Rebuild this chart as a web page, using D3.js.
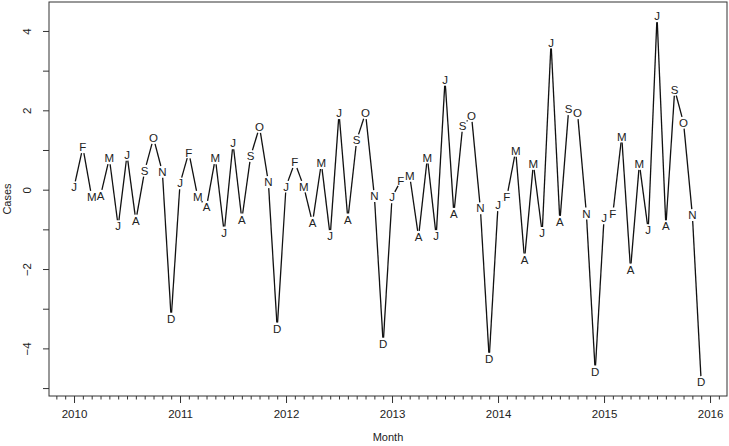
<!DOCTYPE html>
<html>
<head>
<meta charset="utf-8">
<script src="https://cdn.jsdelivr.net/npm/d3@7"></script>
<style>
  body { margin: 0; background: #fff; }
  text { font-family: "Liberation Sans", Arial, sans-serif; fill: #222; }
</style>
</head>
<body>
<svg id="chart" width="729" height="446"></svg>
<script>
// month letters used as plot symbols
const monthLetters = ["J", "F", "M", "A", "M", "J", "J", "A", "S", "O", "N", "D"];
const years = [2010, 2011, 2012, 2013, 2014, 2015];

// monthly values, one array per year
const cases2010 = [0.06, 1.07, -0.18, -0.15, 0.79, -0.92, 0.88, -0.78, 0.48, 1.30, 0.45, -3.25];
const cases2011 = [0.16, 0.94, -0.18, -0.43, 0.79, -1.08, 1.17, -0.75, 0.85, 1.58, 0.19, -3.50];
const cases2012 = [0.08, 0.69, 0.08, -0.83, 0.67, -1.17, 1.93, -0.75, 1.25, 1.93, -0.16, -3.88];
const cases2013 = [-0.19, 0.23, 0.35, -1.19, 0.81, -1.17, 2.77, -0.61, 1.61, 1.86, -0.47, -4.26];
const cases2014 = [-0.39, -0.18, 0.98, -1.76, 0.65, -1.09, 3.71, -0.81, 2.03, 1.93, -0.60, -4.58];
const cases2015 = [-0.72, -0.60, 1.34, -2.01, 0.65, -1.02, 4.37, -0.92, 2.52, 1.69, -0.64, -4.85];

const yTickValues = [-5, -4, -3, -2, -1, 0, 1, 2, 3, 4];
const yLabelValues = [-4, -2, 0, 2, 4];
const xLabelValues = [2010, 2011, 2012, 2013, 2014, 2015, 2016];

const allCases = [cases2010, cases2011, cases2012, cases2013, cases2014, cases2015];

let data = [];
allCases.forEach(function (yearValues, yi) {
  yearValues.forEach(function (v, m) {
    data.push({ t: years[yi] + m / 12, v: v, letter: monthLetters[m] });
  });
});

const svg = d3.select("#chart");
const box = { left: 49, top: 2, right: 727, bottom: 396 };

const x = d3.scaleLinear().domain([2009.764, 2016.16]).range([box.left, box.right]);
const y = d3.scaleLinear().domain([-5.2, 4.73]).range([box.bottom, box.top]);

// frame
svg.append("rect")
  .attr("x", box.left).attr("y", box.top)
  .attr("width", box.right - box.left).attr("height", box.bottom - box.top)
  .attr("fill", "none").attr("stroke", "#333").attr("stroke-width", 1);

// y axis
let yAxis = svg.append("g")
  .attr("transform", `translate(${box.left},0)`)
  .call(d3.axisLeft(y).tickValues(yTickValues).tickSize(6).tickSizeOuter(0)
    .tickFormat(d => yLabelValues.includes(d) ? d3.format("d")(d) : ""));
yAxis.select(".domain").remove();
yAxis.selectAll(".tick line").attr("stroke", "#333");
yAxis.selectAll(".tick text")
  .attr("x", 0).attr("dy", null)
  .attr("text-anchor", "middle")
  .attr("transform", "translate(-18,0) rotate(-90)")
  .attr("font-size", 11.5).style("font-family", "'Liberation Sans', Arial, sans-serif");

// x axis, monthly minor ticks
let minorTicks = d3.range(2009 + 10 / 12, 2016.16, 1 / 12).filter(t => Math.abs(t - Math.round(t)) > 0.01);
svg.append("g")
  .attr("transform", `translate(0,${box.bottom})`)
  .call(d3.axisBottom(x).tickValues(minorTicks).tickSize(3.5).tickFormat(""))
  .call(g => g.select(".domain").remove())
  .selectAll(".tick line").attr("stroke", "#333");

let xAxis = svg.append("g")
  .attr("transform", `translate(0,${box.bottom})`)
  .call(d3.axisBottom(x).tickValues(xLabelValues).tickSize(7).tickFormat(d3.format("d")));
xAxis.select(".domain").remove();
xAxis.selectAll(".tick line").attr("stroke", "#333");
xAxis.selectAll(".tick text")
  .attr("y", 14).attr("dy", "0.71em")
  .attr("font-size", 11.5).style("font-family", "'Liberation Sans', Arial, sans-serif");

// axis titles
svg.append("text")
  .attr("x", (box.left + box.right) / 2).attr("y", 441)
  .attr("text-anchor", "middle").attr("font-size", 11)
  .text("Month");

svg.append("text")
  .attr("transform", `translate(11,${(box.top + box.bottom) / 2}) rotate(-90)`)
  .attr("text-anchor", "middle").attr("font-size", 11)
  .text("Cases");

// line segments with gaps round the letters (type = "b")
const gap = 6;
let segments = [];
for (let i = 0; i < data.length - 1; i++) {
  let x1 = x(data[i].t), y1 = y(data[i].v);
  let x2 = x(data[i + 1].t), y2 = y(data[i + 1].v);
  let len = Math.hypot(x2 - x1, y2 - y1);
  if (len <= 2 * gap) continue;
  let ux = (x2 - x1) / len, uy = (y2 - y1) / len;
  segments.push([x1 + ux * gap, y1 + uy * gap, x2 - ux * gap, y2 - uy * gap]);
}

svg.append("g")
  .selectAll("line")
  .data(segments)
  .join("line")
  .attr("x1", d => d[0]).attr("y1", d => d[1])
  .attr("x2", d => d[2]).attr("y2", d => d[3])
  .attr("stroke", "#111").attr("stroke-width", 1.3);

// letters
svg.append("g")
  .selectAll("text")
  .data(data)
  .join("text")
  .attr("x", d => x(d.t))
  .attr("y", d => y(d.v))
  .attr("dy", "0.36em")
  .attr("text-anchor", "middle")
  .attr("font-size", 11.5)
  .text(d => d.letter);
</script>
</body>
</html>
